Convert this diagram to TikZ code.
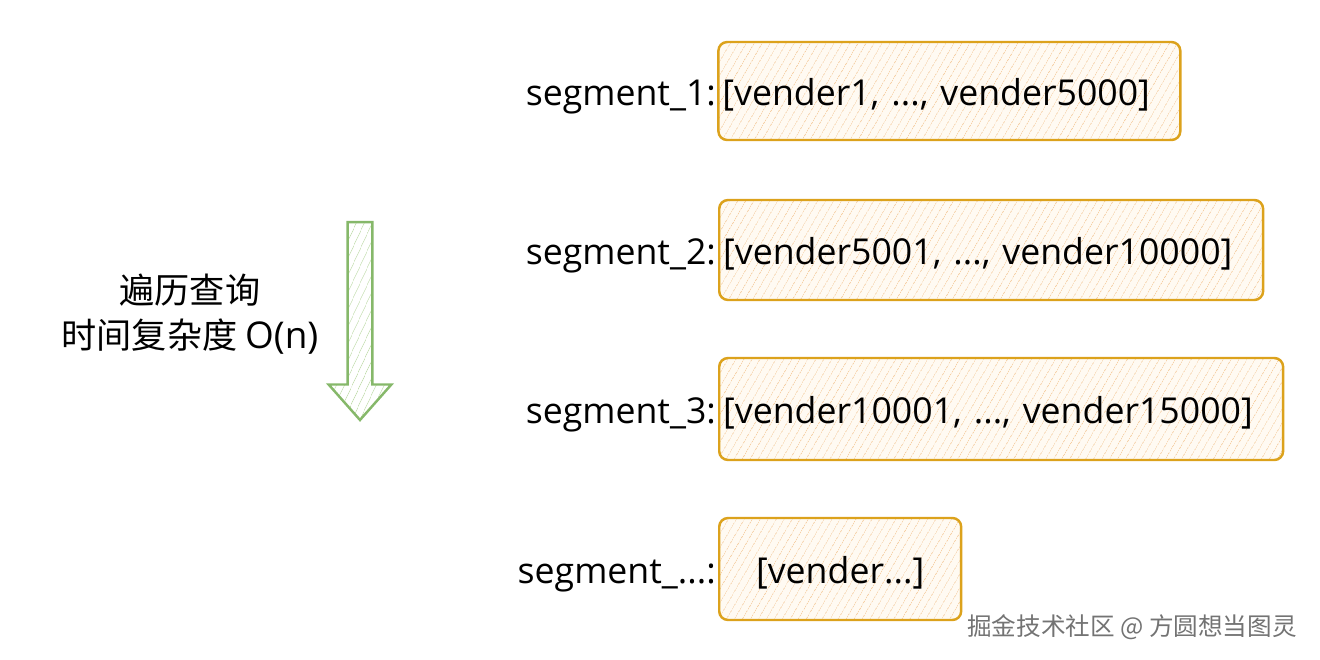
\documentclass[tikz,border=0pt]{standalone}
\usepackage{fontspec}
\setmainfont{Open Sans}
\newfontfamily\cjk{Noto Sans CJK SC}
\usepackage{xcolor}
\usepackage{tikz}
\usetikzlibrary{arrows,positioning,shapes.arrows,patterns.meta}
\definecolor{boxgold}{HTML}{DCA21C}
\definecolor{boxfill}{HTML}{FFFAF2}
\definecolor{boxhatch}{HTML}{F6CFA2}
\definecolor{arrgreen}{HTML}{86B86A}
\definecolor{arrhatch}{HTML}{C3DEAE}
\tikzset{
  seg_box/.style = {draw=boxgold, line width=1.4pt, rounded corners=5pt,
    preaction={fill=boxfill}, pattern color=boxhatch,
    pattern={Lines[angle=60,distance=4pt,line width=0.45pt]},
    anchor=west, inner xsep=0.08cm, inner ysep=0pt, align=left,
    text height=0.72cm, text depth=0.15cm,
    font=\fontsize{20.3}{24}\selectfont},% boite d'un segment
  seg_lbl/.style = {inner sep=1pt, text height=0.72cm, text depth=0.15cm,
    font=\fontsize{20.3}{24}\selectfont},% nom du segment
  trav_arrow/.style = {single arrow, draw=arrgreen, line width=1.4pt,
    preaction={fill=white}, pattern color=arrhatch,
    pattern={Lines[angle=65,distance=4pt,line width=0.45pt]},
    inner sep=0.24cm, single arrow head extend=0.38cm,
    single arrow tip angle=83, minimum height=3.96cm, rotate=-90},% fleche verte
  trav_lbl/.style = {align=center, inner sep=0pt,
    font=\cjk\fontsize{20}{25.5}\selectfont},% texte a gauche
  mark_lbl/.style = {inner sep=0pt, text=black!55,
    font=\cjk\fontsize{14}{16}\selectfont}% filigrane
}
\begin{document}
\begin{tikzpicture}[x=0.02cm,y=-0.02cm]
\useasboundingbox (0,0) rectangle (1320,660);
\node [seg_box, minimum width=9.24cm, text width=9.08cm, minimum height=1.96cm]
  (s1) at (718,91) {[vender1, ..., vender5000]};
\node [seg_box, minimum width=10.88cm, text width=10.72cm, minimum height=2.0cm]
  (s2) at (718,250) {[vender5001, ..., vender10000]};
\node [seg_box, minimum width=11.28cm, text width=11.12cm, minimum height=2.04cm]
  (s3) at (718,409) {[vender10001, ..., vender15000]};
\node [seg_box, minimum width=4.84cm, text width=4.68cm, minimum height=2.04cm,
  align=center] (s4) at (718,569) {[vender...]};
\node [seg_lbl, left=0pt of s1] (l1) {segment\_1:};
\node [seg_lbl, left=0pt of s2] (l2) {segment\_2:};
\node [seg_lbl, left=0pt of s3] (l3) {segment\_3:};
\node [seg_lbl, left=0pt of s4] (l4) {segment\_...:};
\node [trav_arrow] (arr) at (360,314) {};
\node [trav_lbl] (trav) at (190,314)
  {遍历查询\\时间复杂度 {\normalfont\fontsize{21}{25.5}\selectfont O(n)}};
\node [mark_lbl] (wm) at (1132,627) {掘金技术社区 @ 方圆想当图灵};
\end{tikzpicture}
\end{document}
